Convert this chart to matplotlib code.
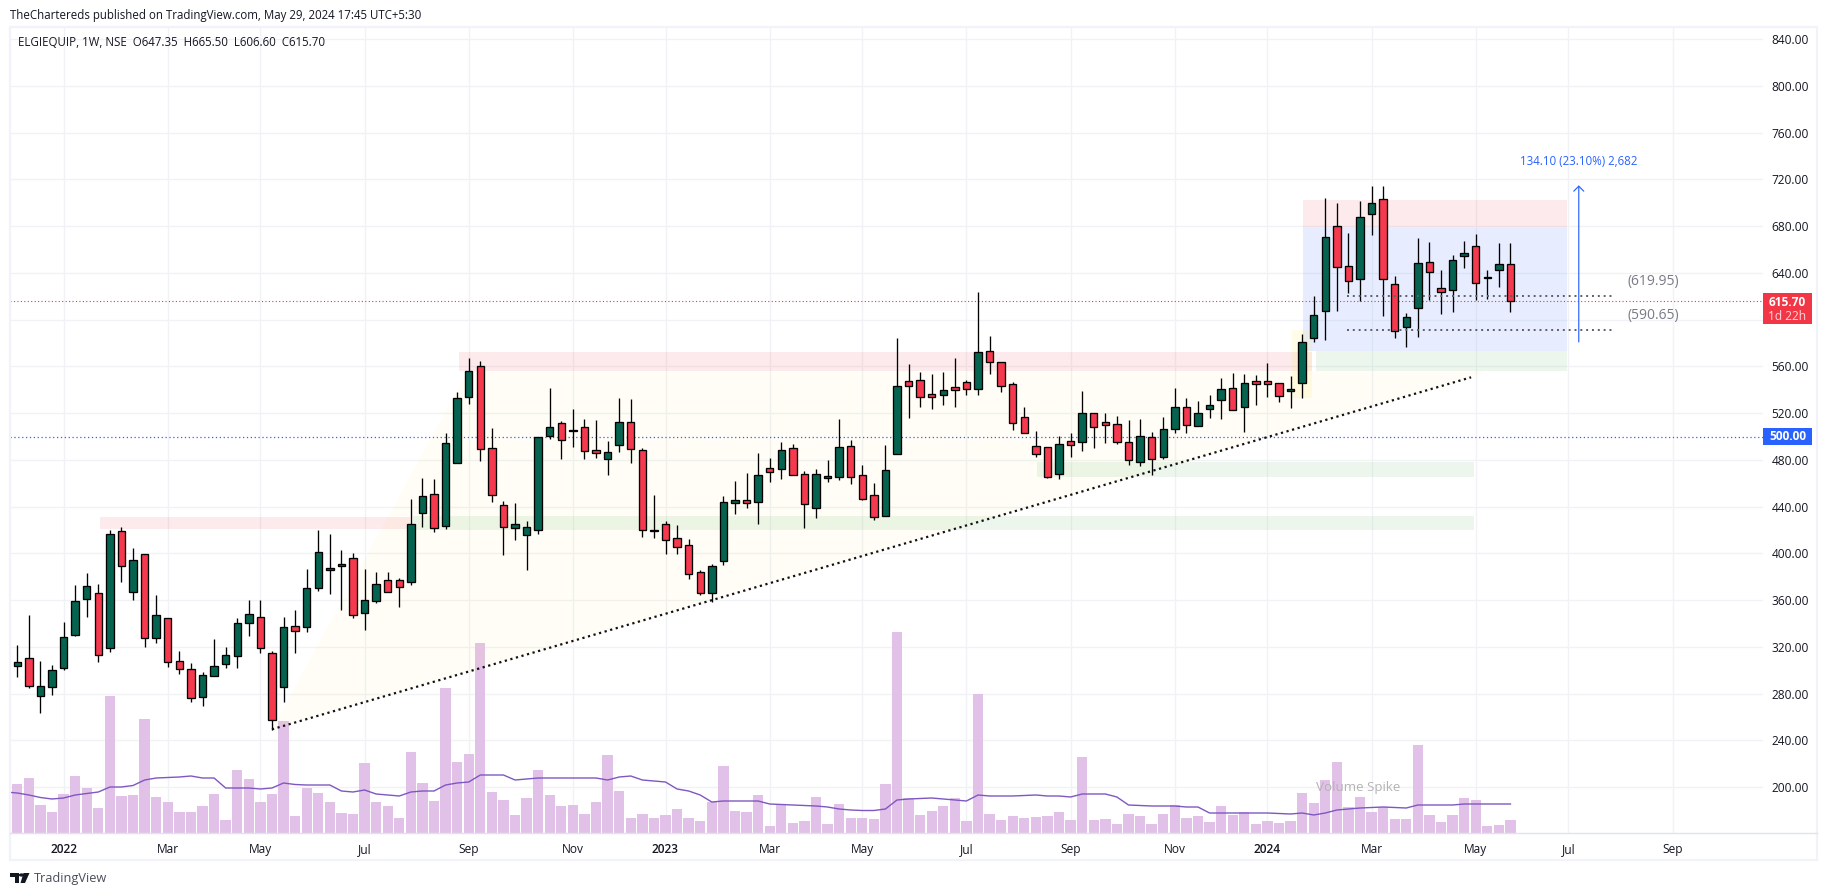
import matplotlib
matplotlib.use("Agg")
import matplotlib.pyplot as plt
from matplotlib.patches import Polygon, Rectangle
from matplotlib.lines import Line2D

plt.rcParams['font.family'] = ['Open Sans', 'DejaVu Sans']

opens = [303.9,310.2,277.7,285.4,301.6,329.9,361.2,365.8,319.3,418.9,366.7,399.2,327.9,344.4,307.6,300.8,276.8,294.8,305.0,311.9,
340.1,345.3,314.5,285.4,337.6,336.7,370.1,386.1,389.5,395.8,348.7,359.0,376.9,376.9,375.2,434.2,450.5,423.0,477.1,533.6,
560.1,489.9,441.1,421.4,415.5,419.7,500.8,511.3,505.0,507.9,488.2,480.5,492.5,512.2,488.2,419.4,424.9,412.9,406.9,383.8,
365.8,393.2,443.4,445.4,443.7,472.8,471.9,489.9,467.7,438.6,464.2,465.1,491.6,466.8,449.7,431.7,484.8,547.3,548.1,536.1,
535.9,542.1,546.4,540.4,572.9,563.5,544.7,516.5,491.6,490.8,467.7,495.9,495.1,519.9,512.2,510.5,495.1,478.0,499.3,482.2,
506.2,525.0,508.8,523.3,531.0,541.3,525.0,547.3,547.3,545.6,538.7,545.6,584.0,607.2,679.9,645.7,634.5,690.2,703.0,630.3,
593.5,609.7,649.1,626.8,625.1,654.8,662.8,635.7,642.2,647.35]
closes = [306.8,286.2,286.2,299.9,328.2,359.0,371.8,312.7,416.3,388.9,394.1,327.3,347.0,306.7,300.8,275.9,295.6,303.3,312.7,340.1,
347.8,318.7,257.1,336.7,333.3,370.1,400.9,387.2,390.6,347.0,359.8,373.5,366.7,371.0,424.9,448.8,421.4,494.2,532.7,555.8,
489.1,449.7,422.3,424.9,422.3,499.3,507.9,496.8,505.6,487.3,485.6,486.5,512.2,489.1,419.7,419.7,411.2,405.2,382.0,365.8,
388.9,443.7,445.4,442.8,466.8,469.4,488.2,466.8,442.0,467.7,466.0,490.8,465.1,446.3,430.9,471.1,543.0,543.6,533.6,533.6,
539.6,539.6,540.4,572.1,563.5,543.0,511.3,502.8,484.8,465.1,493.3,492.5,519.9,507.9,509.6,495.1,479.7,500.2,480.5,506.2,
525.0,509.6,519.9,526.7,540.4,522.4,545.6,544.7,544.7,534.4,540.4,580.6,603.8,670.5,644.8,632.8,687.6,699.6,634.5,590.0,
602.0,648.2,640.5,623.4,650.8,656.8,631.1,636.3,647.4,615.70]
highs = [321.6,347.3,307.9,304.5,341.3,372.9,382.9,373.8,420.0,422.3,404.6,399.2,364.1,344.4,316.2,305.9,298.2,326.4,319.9,344.4,
359.8,359.8,316.2,345.3,351.3,386.4,419.7,416.3,402.6,400.1,386.4,383.8,383.8,378.7,446.5,464.5,463.3,502.7,537.8,567.2,
564.4,507.0,444.6,442.8,427.4,499.9,541.3,513.3,523.3,514.7,514.2,495.9,532.7,531.9,489.9,449.7,427.4,424.0,412.0,385.5,
390.6,448.8,461.7,468.5,485.6,481.4,495.1,493.3,470.2,472.0,479.6,514.7,496.8,475.4,460.0,492.5,584.1,561.8,555.0,553.3,
555.0,567.0,548.1,623.4,585.8,563.5,546.4,525.0,504.5,490.8,500.2,502.8,538.7,519.9,519.9,517.3,513.9,514.7,503.6,516.5,
541.3,532.7,530.1,535.3,549.8,554.1,553.3,552.4,562.7,545.6,551.5,587.5,620.0,703.9,699.9,673.9,701.3,714.4,714.4,637.1,
605.4,669.6,666.2,642.2,655.1,667.0,673.1,642.2,665.4,665.50]
lows = [294.5,285.1,263.7,278.8,300.5,329.6,345.8,307.3,315.9,375.8,360.4,320.2,323.6,303.0,297.1,273.1,269.7,294.8,302.2,302.2,
329.6,315.0,249.1,273.1,315.0,333.0,368.1,365.5,351.8,345.0,334.7,357.8,366.7,354.4,373.2,422.5,418.6,420.9,477.1,527.9,
479.4,444.0,398.9,411.7,386.1,416.9,498.2,481.1,491.3,481.1,481.9,467.4,487.1,477.6,414.3,413.5,399.8,399.8,378.4,364.7,
358.7,390.3,434.0,439.1,425.4,461.4,463.9,466.8,422.0,430.6,461.4,463.1,459.7,446.0,428.9,431.7,484.8,516.2,525.6,523.9,
527.3,525.6,535.9,535.9,553.8,538.4,505.9,502.8,482.8,464.2,464.0,482.8,487.9,490.5,494.2,493.9,475.9,475.1,467.4,481.1,
503.3,503.3,508.8,516.2,515.3,522.4,504.2,527.3,534.1,529.9,524.7,533.3,581.2,582.9,607.7,623.1,616.3,672.5,603.4,584.6,
576.9,585.5,617.1,605.2,606.9,644.5,617.1,618.0,628.3,606.60]

# volume heights in arbitrary units; the first value is the partly hidden bar before the first candle
volumes = [60,49,55,28,21,39,57,45,25,137,37,38,114,36,31,21,21,27,39,13,63,54,31,39,112,17,45,40,31,20,19,70,31,27,15,81,50,32,145,71,
79,190,41,33,18,35,63,38,27,28,19,31,78,42,15,19,15,18,24,15,12,31,67,22,21,38,7,28,10,12,36,9,29,15,15,14,49,201,35,18,
22,27,35,12,139,19,13,17,15,16,17,21,13,76,13,14,9,19,17,9,19,28,15,17,11,27,18,21,9,12,10,12,40,30,53,71,26,36,21,26,
14,14,88,18,11,18,35,33,7,8,13]
volume_ma = [41,40,38,35.5,34,35,38,39.5,41,46,46,47.5,53,55,55.5,56,57,55,55,45,45,45,44,45,50,48.5,48,48,48,42,41,43,39,38,37,41,42,42,48,50,
51,58,58,58,53,54,55,55,55,55,55,55,53,56,57,53,52,51,44,42,38,31,32,32,32,32,29,28.5,28,27.5,27,26,24,23,22.5,22.5,24,33,34,34.5,
35,34,33,32,38,37,37,37,37.5,38,37,37,36,39,39,39,36,28,27.5,27,27,27,26,26,20,20,20,20,20,20,19.5,19,20,18,20,23,24,25,25.5,26,
25.5,25,28,28,28,28,29,29,29,29,29]

time_ticks = [4,13,21,30,39,48,56,65,73,82,91,100,108,117,126,134,143]
time_labels = ['2022','Mar','May','Jul','Sep','Nov','2023','Mar','May','Jul','Sep','Nov','2024','Mar','May','Jul','Sep']
price_ticks = list(range(200, 841, 40))
title = 'TheChartereds published on TradingView.com, May 29, 2024 17:45 UTC+5:30'
legend = 'ELGIEQUIP, 1W, NSE  O647.35  H665.50  L606.60  C615.70'

W, H = 1827, 896
X0, XS = 17.3, 11.575
PY, PS = 39.3, 1.1683
AL, AR, AT, AB = 10, 1763, 27, 833

def fx(p): return p / W
def fy(p): return 1 - p / H

fig = plt.figure(figsize=(W/100, H/100), dpi=100, facecolor='white')
ax2 = fig.add_axes([fx(AL), fy(AB), (AR-AL)/W, (AB-AT)/H])
ax = fig.add_axes([fx(AL), fy(AB), (AR-AL)/W, (AB-AT)/H])
ax.patch.set_visible(False)
xlim = ((AL-X0)/XS, (AR-X0)/XS)
ylim = (840-(AB-PY)/PS, 840+(PY-AT)/PS)
ax.set_xlim(xlim); ax.set_ylim(ylim)
ax2.set_xlim(xlim); ax2.set_ylim(0, AB-AT)

# grid on the lower axes so that it sits behind everything
ax2.set_xticks([]); ax2.set_yticks([])
for s in ax2.spines.values(): s.set_visible(False)
GRID = '#f0f2f6'
for t in time_ticks: ax2.axvline(t, color=GRID, lw=1.0, zorder=0)
for p in price_ticks:
    ax2.axhline((p-ylim[0])*PS, color=GRID, lw=1.0, zorder=0)

n = len(opens)
vx = list(range(-1, n))
ax2.bar(vx, volumes, width=0.89, color='#e1bee7', alpha=0.95, lw=0, zorder=2)
ax2.plot(vx, volume_ma, color='#7e57c2', lw=1.0, zorder=3)

# zones are translucent so the grid shows through them
PINK = (242/255, 54/255, 69/255, 0.10)
GREEN = (76/255, 175/255, 80/255, 0.10)
BLUE = (41/255, 98/255, 255/255, 0.11)
def zone(x0, x1, p0, p1, c, z=1):
    ax.add_patch(Rectangle((x0, p0), x1-x0, p1-p0, facecolor=c, edgecolor='none', zorder=z))

ax.add_patch(Polygon([(22,249.4),(38.9,556),(127,556),(125.6,550.7)], closed=True, facecolor=(255/255, 235/255, 59/255, 0.05), edgecolor='none', zorder=1))
zone(7.15,33.9,420.9,430.9,PINK)
zone(34.2,125.85,420,432,GREEN)
zone(38.2,111.85,556.4,572.2,PINK)
zone(88.1,125.85,465.7,478.2,GREEN)
zone(112.2,133.9,556,573.2,GREEN)
zone(111.1,133.9,678.2,702.4,PINK)
zone(111.1,133.9,573.2,678.2,BLUE)
zone(110.1,111.85,533.3,591.2,(255/255, 235/255, 59/255, 0.12),1.5)

# horizontal price lines
ax.axhline(615.70, color='#f23645', lw=0.8, ls=(0,(1,2.1)), zorder=1.8)
ax.axhline(500, color='#2962ff', lw=0.9, ls=(0,(1,2.1)), zorder=1.8)

# candles
UP, DOWN = '#06634f', '#f5394e'
xs = list(range(n))
ax.vlines(xs, lows, highs, color='black', lw=0.95, zorder=4)
tops = [max(o,c) for o,c in zip(opens,closes)]
bots = [min(o,c) for o,c in zip(opens,closes)]
cols = [UP if c>=o else DOWN for o,c in zip(opens,closes)]
ax.bar(xs, [t-b for t,b in zip(tops,bots)], bottom=bots, width=0.64, color=cols, edgecolor='black', lw=0.95, zorder=5)

# drawings
ax.plot([22,125.6],[249.4,550.7], color='#111111', lw=1.6, ls=(0,(1,1.6)), zorder=6)
for p in (620.3, 591.2):
    ax.plot([114.9,137.9],[p,p], color='#5d606b', lw=1.4, ls=(0,(1,2)), zorder=6)
ax.annotate('', xy=(134.9,715), xytext=(134.9,581),
            arrowprops=dict(arrowstyle='->,head_length=0.36,head_width=0.36', color='#2962ff', lw=0.85, shrinkA=0, shrinkB=0), zorder=6)
ax.text(134.9, 735.2, '134.10 (23.10%) 2,682', color='#2962ff', fontsize=8.3, ha='center', va='center', zorder=7)
ax.text(139.15, 632.5, '(619.95)', color='#787b86', fontsize=10, ha='left', va='center', zorder=7)
ax.text(139.15, 603.4, '(590.65)', color='#787b86', fontsize=10, ha='left', va='center', zorder=7)
ax.text(112.2, 199.5, 'Volume Spike', color='#b3b3b3', fontsize=9.6, ha='left', va='center', zorder=7)

# axes
ax.set_xticks(time_ticks)
ax.set_xticklabels(time_labels, fontsize=8.6, color='#131722')
for lab in ax.get_xticklabels():
    if lab.get_text().isdigit():
        lab.set_fontweight('semibold')
ax.tick_params(axis='x', length=0, pad=7)
ax.yaxis.tick_right()
ax.set_yticks(price_ticks)
ax.set_yticklabels(['' if p == 600 else f'{p:.2f}' for p in price_ticks], fontsize=8.6, color='#131722')
ax.tick_params(axis='y', length=0, pad=6)
for k, s in ax.spines.items():
    s.set_visible(False)

# figure furniture in pixel positions
def ftext(x, y, s, **kw):
    fig.text(fx(x), fy(y), s, **kw)
def frect(x0, y0, x1, y1, **kw):
    fig.add_artist(Rectangle((fx(x0), fy(y1)), (x1-x0)/W, (y1-y0)/H, transform=fig.transFigure, **kw))

frect(10, 27, 1817, 860, fill=False, edgecolor='#f0f3fa', lw=1.6)
fig.add_artist(Line2D([fx(10), fx(1817)], [fy(833), fy(833)], color='#e0e3eb', lw=1.0))
frect(1763, 293, 1812, 324, facecolor='#f23645', edgecolor='none', zorder=8)
frect(1763, 428, 1812, 445, facecolor='#2962ff', edgecolor='none', zorder=8)
ftext(1787.5, 302, '615.70', color='white', fontsize=8.6, fontweight='bold', ha='center', va='center', zorder=9)
ftext(1787.5, 316, '1d 22h', color='#ffd7da', fontsize=8.6, ha='center', va='center', zorder=9)
ftext(1787.5, 436.7, '500.00', color='white', fontsize=8.6, fontweight='bold', ha='center', va='center', zorder=9)
ftext(10, 15, title, color='#131722', fontsize=8.3, ha='left', va='center')
ftext(18, 42, legend, color='#131722', fontsize=8.3, ha='left', va='center')
ftext(33.5, 878, 'TradingView', color='#4a4e59', fontsize=9.2, ha='left', va='center')

def logo(points):
    fig.add_artist(Polygon([(fx(a), fy(b)) for a,b in points], closed=True, transform=fig.transFigure, facecolor='#131722', edgecolor='none'))
logo([(10,873),(19,873),(19,883),(15,883),(15,877),(10,877)])
logo([(23.5,873),(29.5,873),(25,883),(20.5,883)])
fig.add_artist(plt.Circle((fx(21.5), fy(875)), 1.9/W, transform=fig.transFigure, color='#131722'))

fig.savefig('out.png', dpi=100, facecolor='white')
